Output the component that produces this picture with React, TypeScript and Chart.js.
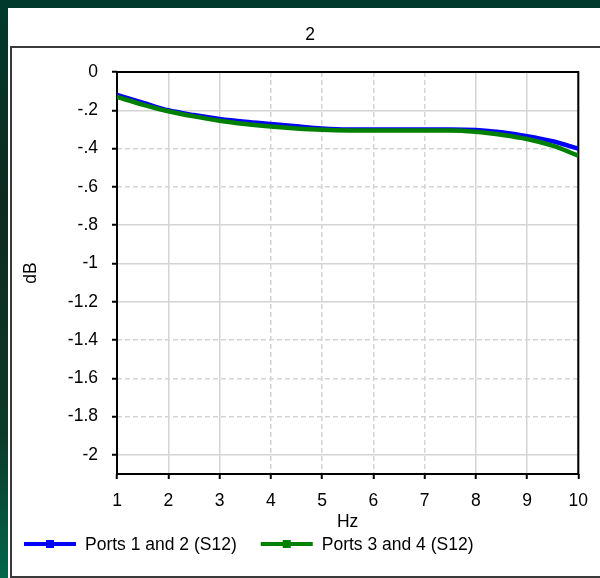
import React, { useEffect, useRef } from "react";
import { Chart, registerables } from "chart.js";

Chart.register(...registerables);

const TITLE = "2";
const X_TITLE = "Hz";
const Y_TITLE = "dB";

const FREQ = [1, 1.5, 2, 2.5, 3, 3.5, 4, 4.5, 5, 5.5, 6, 6.5, 7, 7.5, 8, 8.5, 9, 9.5, 10];
const PORTS_12 = [-0.12, -0.16, -0.2, -0.225, -0.245, -0.26, -0.272, -0.284, -0.295, -0.3, -0.3, -0.3, -0.3, -0.3, -0.303, -0.315, -0.335, -0.362, -0.4];
const PORTS_34 = [-0.13, -0.17, -0.205, -0.232, -0.255, -0.272, -0.285, -0.295, -0.302, -0.305, -0.305, -0.305, -0.305, -0.305, -0.312, -0.328, -0.35, -0.385, -0.437];

const SERIES_LABELS = ["Ports 1 and 2 (S12)", "Ports 3 and 4 (S12)"];

const X_TICKS = [1, 2, 3, 4, 5, 6, 7, 8, 9, 10];
const X_TICK_LABELS = ["1", "2", "3", "4", "5", "6", "7", "8", "9", "10"];
const Y_TICKS = [0, -0.2, -0.4, -0.6, -0.8, -1, -1.2, -1.4, -1.6, -1.8, -2];
const Y_TICK_LABELS = ["0", "-.2", "-.4", "-.6", "-.8", "-1", "-1.2", "-1.4", "-1.6", "-1.8", "-2"];

const DASHED_X = [4, 5, 6, 7];
const DASHED_Y = [-0.4, -0.6, -1.4, -1.6, -1.8];

const FONT_FAMILY = '"Liberation Sans", Arial, sans-serif';
const FONT_SIZE = 17.5;

const isDashed = (list: number[], v: number | undefined) =>
  v !== undefined && list.some((d) => Math.abs(d - v) < 1e-6);

const titlePlugin = {
  id: "customTitle",
  afterDraw(chart: any) {
    const ctx = chart.ctx;
    ctx.save();
    ctx.font = `${FONT_SIZE}px ${FONT_FAMILY}`;
    ctx.fillStyle = "#000";
    ctx.textAlign = "center";
    ctx.textBaseline = "middle";
    ctx.fillText(TITLE, 310, 35);
    ctx.restore();
  },
};

const framePlugin = {
  id: "plotFrame",
  beforeDatasetsDraw(chart: any) {
    const { ctx, chartArea } = chart;
    ctx.save();
    ctx.strokeStyle = "#000";
    ctx.lineWidth = 2;
    ctx.strokeRect(chartArea.left, chartArea.top, chartArea.right - chartArea.left, chartArea.bottom - chartArea.top);
    ctx.restore();
  },
};

const legendPlugin = {
  id: "customLegend",
  afterDraw(chart: any) {
    const ctx = chart.ctx;
    ctx.save();
    ctx.font = `${FONT_SIZE}px ${FONT_FAMILY}`;
    ctx.textBaseline = "middle";
    ctx.textAlign = "left";
    let x = 24;
    const y = 544;
    chart.data.datasets.forEach((ds: any) => {
      ctx.strokeStyle = ds.borderColor;
      ctx.lineWidth = 4;
      ctx.beginPath();
      ctx.moveTo(x, y);
      ctx.lineTo(x + 52, y);
      ctx.stroke();
      ctx.fillStyle = ds.borderColor;
      ctx.fillRect(x + 22, y - 4, 8, 8);
      ctx.fillStyle = "#000";
      ctx.fillText(ds.label, x + 61, y + 1);
      x = x + 61 + ctx.measureText(ds.label).width + 24;
    });
    ctx.restore();
  },
};

export default function App() {
  const canvasRef = useRef<HTMLCanvasElement | null>(null);

  useEffect(() => {
    if (!canvasRef.current) return;
    const font = { family: FONT_FAMILY, size: FONT_SIZE };
    const chart = new Chart(canvasRef.current, {
      type: "line",
      data: {
        datasets: [
          {
            label: SERIES_LABELS[0],
            data: FREQ.map((f, i) => ({ x: f, y: PORTS_12[i] })),
            borderColor: "#0000ff",
            backgroundColor: "#0000ff",
            borderWidth: 4.5,
            pointRadius: 0,
            cubicInterpolationMode: "monotone",
            order: 1,
          },
          {
            label: SERIES_LABELS[1],
            data: FREQ.map((f, i) => ({ x: f, y: PORTS_34[i] })),
            borderColor: "#008000",
            backgroundColor: "#008000",
            borderWidth: 4.5,
            pointRadius: 0,
            cubicInterpolationMode: "monotone",
            order: 0,
          },
        ],
      },
      options: {
        animation: false,
        responsive: false,
        maintainAspectRatio: false,
        layout: { padding: { left: 0, top: 72, right: 19, bottom: 44 } },
        plugins: {
          legend: { display: false },
          title: { display: false },
          tooltip: { enabled: false },
        },
        scales: {
          x: {
            type: "linear",
            min: 1,
            max: 10,
            afterBuildTicks: (scale: any) => {
              scale.ticks = X_TICKS.map((v) => ({ value: v }));
            },
            afterFit: (scale: any) => {
              scale.height = 60;
            },
            ticks: {
              color: "#000",
              font,
              padding: 12,
              maxRotation: 0,
              autoSkip: false,
              callback: (_v: any, i: number) => X_TICK_LABELS[i],
            },
            grid: {
              color: "#d4d4d4",
              lineWidth: 1.5,
              tickColor: "#000",
              tickWidth: 2,
              tickLength: 5,
              tickBorderDash: [],
            },
            border: {
              display: false,
              dash: (ctx: any) => (isDashed(DASHED_X, ctx.tick?.value) ? [5, 3] : []),
            },
            title: {
              display: true,
              text: X_TITLE,
              color: "#000",
              font,
              padding: { top: 0, bottom: 1 },
            },
          },
          y: {
            type: "linear",
            min: -2.1,
            max: 0,
            afterBuildTicks: (scale: any) => {
              scale.ticks = Y_TICKS.map((v) => ({ value: v }));
            },
            afterFit: (scale: any) => {
              scale.width = 117;
            },
            ticks: {
              color: "#000",
              font,
              padding: 14,
              autoSkip: false,
              callback: (_v: any, i: number) => Y_TICK_LABELS[i],
            },
            grid: {
              color: "#d4d4d4",
              lineWidth: 1.5,
              tickColor: "#000",
              tickWidth: 2,
              tickLength: 5,
              tickBorderDash: [],
            },
            border: {
              display: false,
              dash: (ctx: any) => (isDashed(DASHED_Y, ctx.tick?.value) ? [5, 3] : []),
            },
            title: {
              display: true,
              text: Y_TITLE,
              color: "#000",
              font,
              padding: { top: 21, bottom: 0 },
            },
          },
        },
      },
      plugins: [titlePlugin, framePlugin, legendPlugin],
    } as any);
    return () => chart.destroy();
  }, []);

  return (
    <div
      style={{
        position: "fixed",
        left: 0,
        top: 0,
        width: 600,
        height: 578,
        overflow: "hidden",
        background: "linear-gradient(to bottom, #003a2c 0%, #0f2a1f 35%, #0c3a29 75%, #02664a 100%)",
      }}
    >
      <div style={{ position: "absolute", left: 8, top: 8, right: 0, bottom: 0, background: "#ffffff" }} />
      <div
        style={{
          position: "absolute",
          left: 10,
          top: 46,
          width: 600,
          height: 528,
          border: "2px solid #3a3a3a",
        }}
      />
      <canvas
        ref={canvasRef}
        width={600}
        height={578}
        style={{ position: "absolute", left: 0, top: 0, width: 600, height: 578 }}
      />
    </div>
  );
}
